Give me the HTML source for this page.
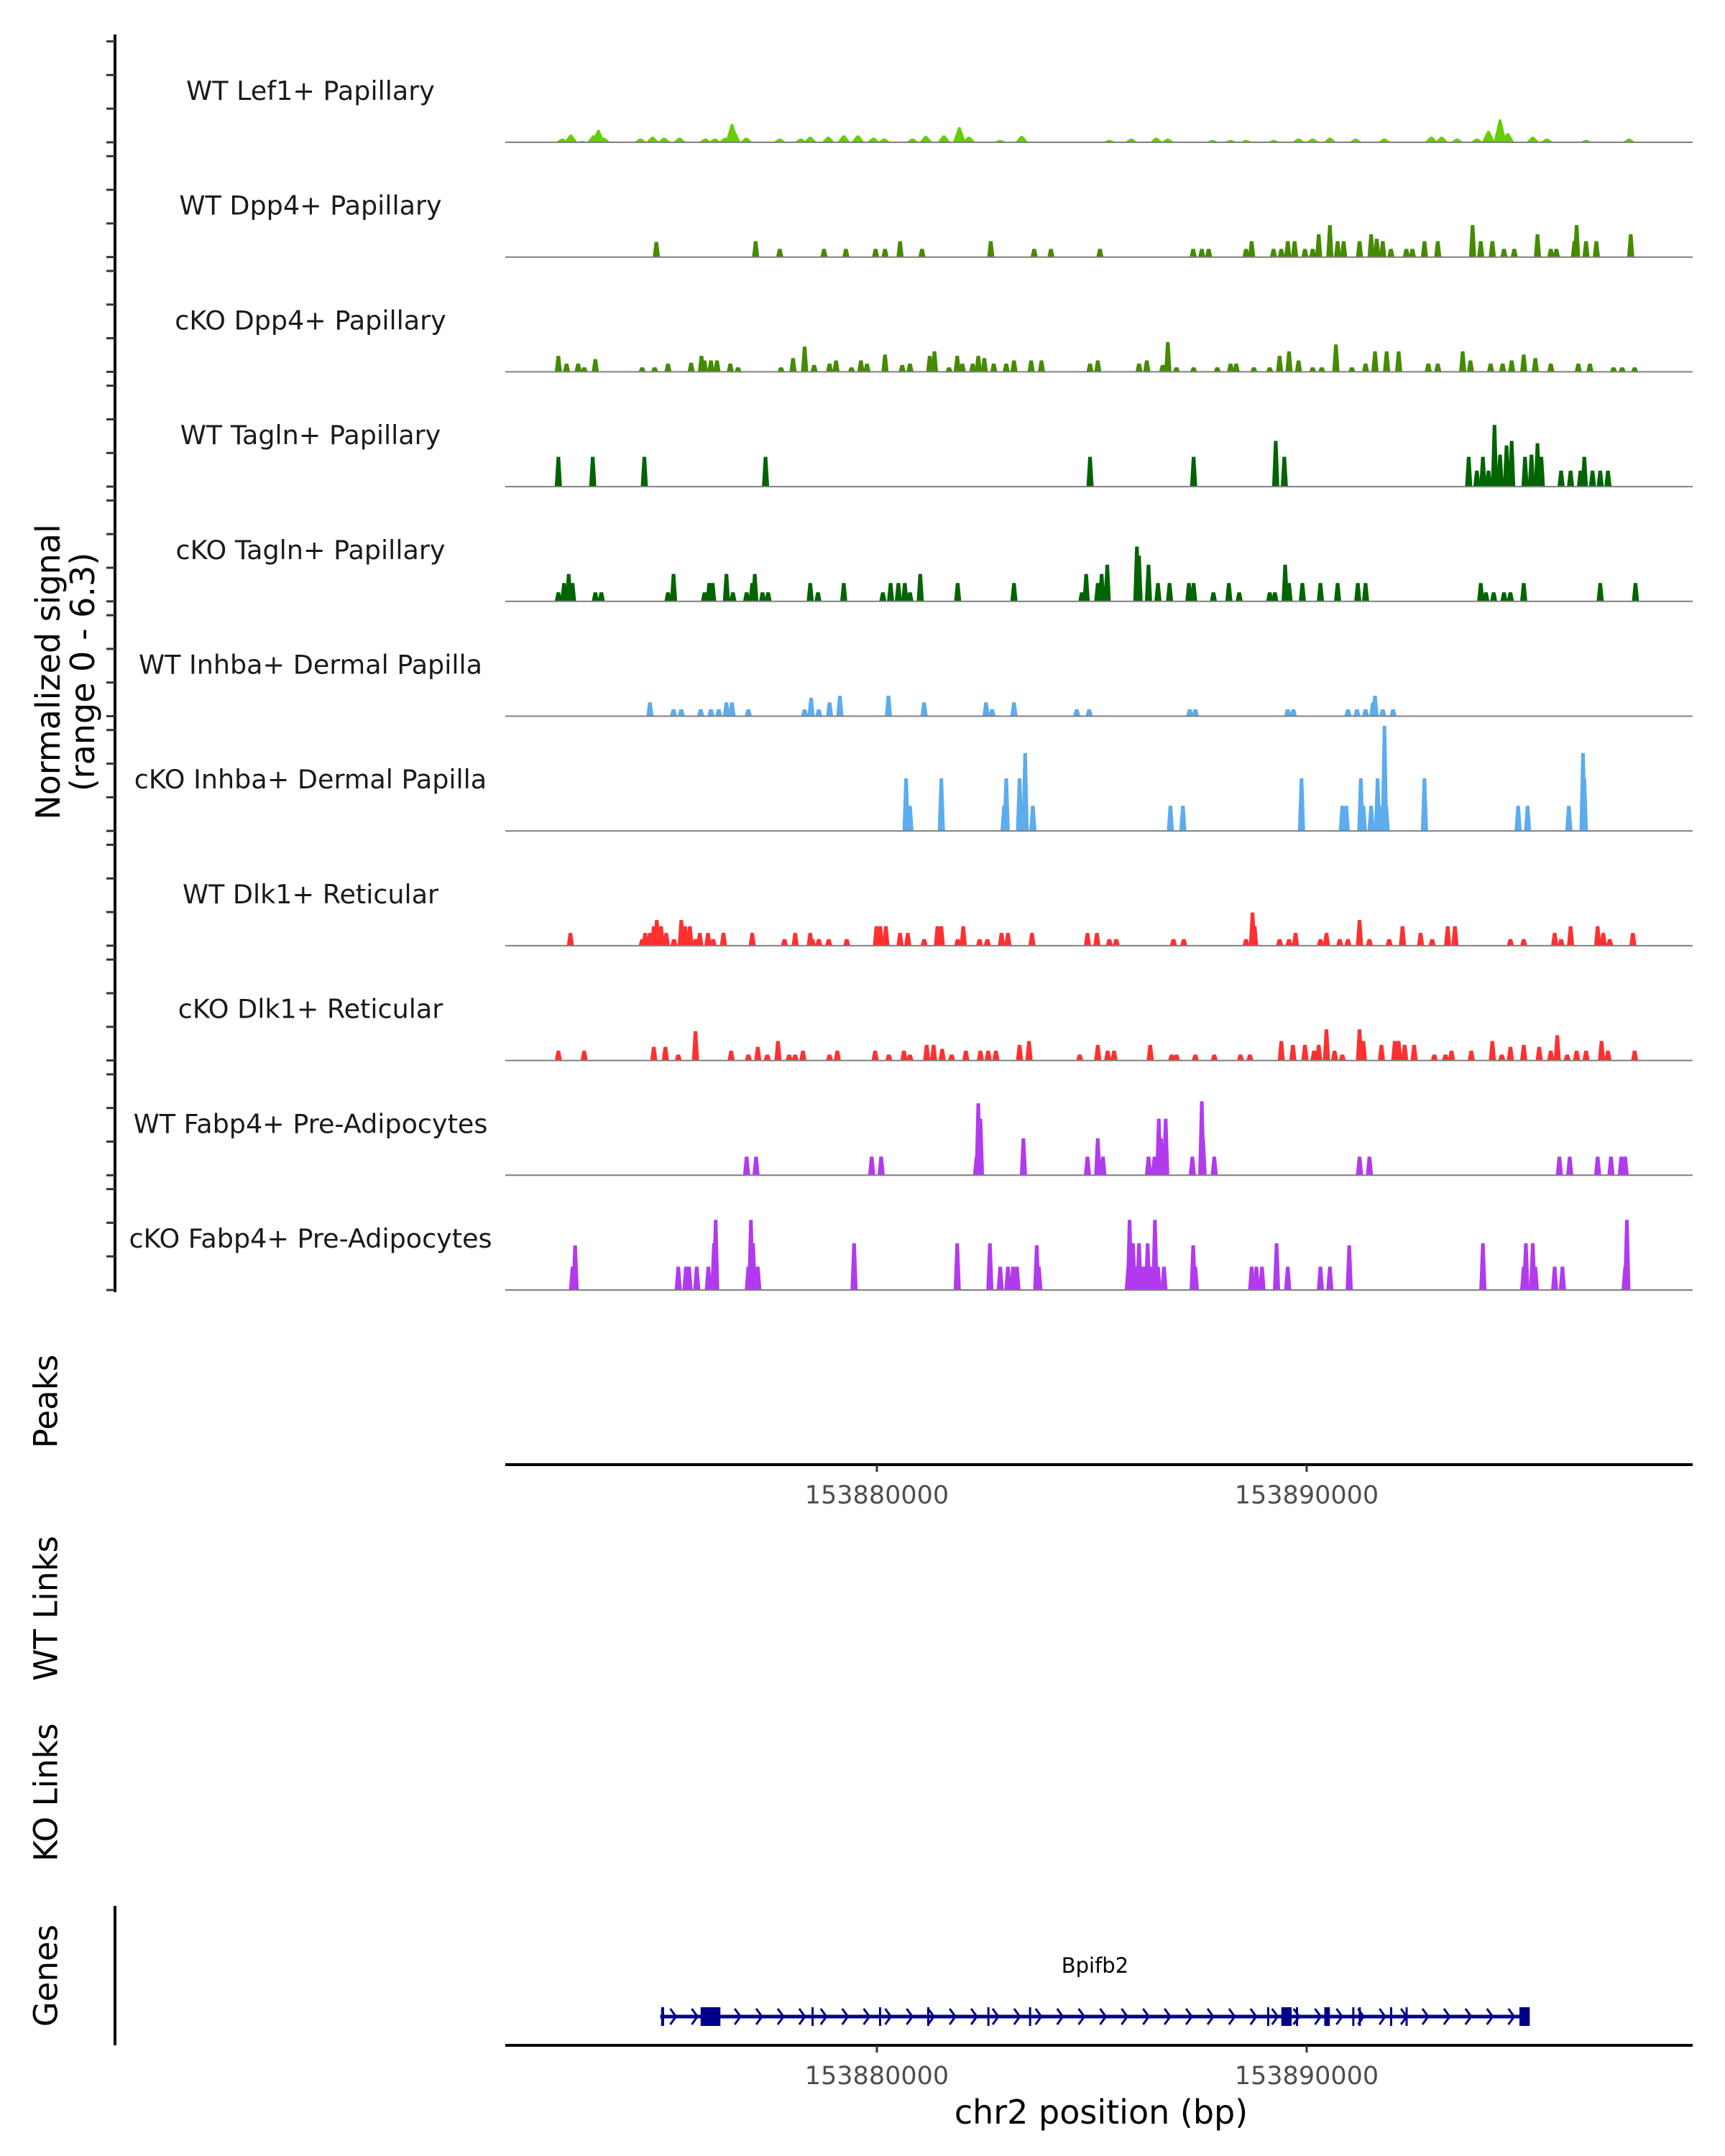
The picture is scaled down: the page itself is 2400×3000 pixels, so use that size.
<!DOCTYPE html>
<html><head><meta charset="utf-8"><title>Chromatin accessibility coverage plot for the Bpifb2 locus</title>
<style>html,body{margin:0;padding:0;background:#fff;}svg{display:block;}</style></head>
<body>
<svg id="chart" xmlns="http://www.w3.org/2000/svg" width="2400" height="3000" viewBox="0 0 2400 3000" font-family="'DejaVu Sans','Liberation Sans',sans-serif"></svg>
<script>
// ---- data (positions in kb offset from 153,870,000; values in normalized signal) ----
const trackNames = ["WT Lef1+ Papillary","WT Dpp4+ Papillary","cKO Dpp4+ Papillary","WT Tagln+ Papillary","cKO Tagln+ Papillary","WT Inhba+ Dermal Papilla","cKO Inhba+ Dermal Papilla","WT Dlk1+ Reticular","cKO Dlk1+ Reticular","WT Fabp4+ Pre-Adipocytes","cKO Fabp4+ Pre-Adipocytes"];
const trackColors = ["#66CD00","#458B00","#458B00","#006400","#006400","#5CACEE","#5CACEE","#FF3030","#FF3030","#B23AEE","#B23AEE"];
const xTicks = [153880000, 153890000];
const yTicks = [0, 2, 4, 6];

const lef1WtPos = [2.68,2.88,3.14,3.41,3.52,3.65,4.5,4.78,5.05,5.41,6.01,6.23,6.47,6.63,6.68,6.96,7.74,8.23,8.45,8.87,9.23,9.56,9.92,10.17,10.83,11.14,11.56,11.92,12.14,12.87,13.37,15.41,15.92,16.5,16.77,17.81,18.23,18.59,19.23,19.81,20.14,20.54,21.14,21.81,22.9,23.14,23.5,23.96,24.23,24.5,24.68,25.26,25.59,26.5,27.5];
const lef1WtVal = [.22,.46,.08,.41,.73,.27,.22,.33,.27,.27,.22,.22,.27,1.09,.68,.27,.22,.22,.33,.33,.41,.41,.27,.22,.22,.38,.41,.9,.33,.14,.38,.14,.22,.27,.22,.14,.14,.14,.14,.22,.22,.27,.22,.22,.33,.33,.22,.22,.68,1.36,.54,.33,.22,.14,.22];

const dpp4WtPos = [4.87,7.18,7.74,8.77,9.28,9.97,10.19,10.54,11.05,12.65,13.66,14.05,15.19,17.36,17.56,17.72,18.59,18.72,19.23,19.41,19.56,19.72,19.96,20.14,20.28,20.54,20.72,20.86,21.23,21.5,21.63,21.77,21.96,22.32,22.46,22.74,23.05,23.86,24.05,24.32,24.59,24.83,25.37,25.68,25.81,26.23,26.28,26.5,26.74,27.54];
const dpp4WtVal = [.9,.95,.49,.49,.49,.49,.49,.95,.49,.95,.49,.49,.49,.49,.49,.49,.49,.95,.49,.49,.95,.95,.49,.49,1.36,1.9,.95,.95,.95,1.36,1.09,.95,.49,.49,.49,.95,.95,1.9,.95,.95,.49,.49,1.36,.49,.49,.95,1.9,.95,.95,1.36];

const dpp4KoPos = [2.59,2.78,3.05,3.19,3.45,4.54,4.83,5.14,5.68,5.92,5.99,6.14,6.28,6.59,6.77,7.77,8.05,8.32,8.54,8.9,9.05,9.41,9.63,9.77,10.19,10.59,10.77,11.23,11.34,11.68,11.87,11.99,12.23,12.36,12.5,12.72,13.01,13.19,13.59,13.83,14.96,15.14,16.1,16.28,16.65,16.77,16.97,17.37,17.92,18.23,18.36,18.77,19.14,19.37,19.59,19.81,20.14,20.35,20.68,21.05,21.37,21.59,21.86,22.14,22.83,23.05,23.63,23.81,24.28,24.56,24.77,25.05,25.32,25.68,26.32,26.59,27.14,27.34,27.63];
const dpp4KoVal = [.95,.49,.49,.27,.76,.27,.27,.49,.54,.95,.68,.68,.68,.49,.27,.27,.82,1.5,.41,.49,.68,.27,.68,.49,1.03,.41,.49,.95,1.22,.27,.95,.49,.49,.95,.82,.49,.49,.68,.68,.68,.49,.68,.49,.68,.41,1.77,.27,.27,.27,.49,.49,.27,.27,.95,1.22,.68,.27,.27,1.63,.27,.49,1.22,1.22,1.22,.49,.49,1.22,.68,.49,.49,.68,1.03,.82,.49,.49,.49,.27,.27,.27];

const taglnWtPos = [2.59,3.39,4.59,7.41,14.96,17.37,19.28,19.48,23.77,23.96,24.1,24.23,24.37,24.5,24.65,24.77,25.08,25.23,25.37,25.46,25.92,26.14,26.37,26.46,26.65,26.83,27.01];
const taglnWtVal = [1.77,1.77,1.77,1.77,1.77,1.77,2.72,1.77,1.77,.95,1.77,.95,3.67,1.9,2.45,2.72,1.77,1.9,2.58,1.77,.95,.95,.95,1.77,.95,.95,.95];

const taglnKoPos = [2.59,2.72,2.83,2.92,3.45,3.59,5.14,5.27,5.99,6.1,6.18,6.5,6.65,6.97,7.1,7.16,7.34,7.47,8.45,8.63,9.23,10.14,10.32,10.5,10.65,10.77,11.01,11.88,13.19,14.77,14.87,15.14,15.23,15.36,16.05,16.1,16.32,16.54,16.81,17.26,17.37,17.83,18.19,18.43,19.14,19.26,19.5,19.59,19.9,20.32,20.72,21.19,21.37,24.05,24.17,24.35,24.59,24.74,25.05,26.83,27.65];
const taglnKoVal = [.54,1.09,1.63,1.09,.54,.54,.54,1.63,.54,1.09,1.09,1.63,.54,.54,1.09,1.63,.54,.54,1.09,.54,1.09,.54,1.09,1.09,1.09,.54,1.63,1.09,1.09,.54,1.63,1.09,1.63,2.18,3.26,2.72,2.18,1.09,1.09,1.09,1.09,.54,1.09,.54,.54,.54,2.18,1.09,1.09,1.09,1.09,1.09,1.09,1.09,.54,.54,.54,.54,1.09,1.09,1.09];

const inhbaWtPos = [4.72,5.27,5.45,5.9,6.14,6.32,6.5,6.63,7.01,8.32,8.47,8.65,8.9,9.14,10.27,11.1,12.54,12.68,13.19,14.65,14.94,17.28,17.41,19.56,19.69,20.96,21.17,21.37,21.54,21.59,21.77,22.01];
const inhbaWtVal = [.82,.41,.41,.41,.41,.41,.82,.82,.41,.41,1.09,.41,.82,1.22,1.22,.82,.82,.41,.82,.41,.41,.41,.41,.41,.41,.41,.41,.41,.82,1.22,.41,.41];

const inhbaKoPos = [10.68,10.77,11.5,12.96,13.01,13.32,13.37,13.45,13.63,16.83,17.12,19.88,20.83,20.92,21.26,21.32,21.5,21.65,21.72,21.81,21.85,22.74,24.92,25.14,26.1,26.43,26.46];
const inhbaKoVal = [3.13,1.5,3.13,1.5,3.13,3.13,1.5,4.63,1.5,1.5,1.5,3.13,1.5,1.5,3.13,1.5,1.5,3.13,1.5,6.25,1.5,3.13,1.5,1.5,1.5,4.63,3.13];

const dlk1WtPos = [2.87,4.54,4.61,4.72,4.81,4.88,4.98,5.1,5.28,5.45,5.54,5.65,5.78,5.88,6.07,6.19,6.43,7.1,7.85,8.1,8.45,8.5,8.65,8.88,9.3,9.99,10.08,10.21,10.54,10.72,11.1,11.41,11.5,11.88,12.01,12.39,12.57,12.9,13.05,13.61,14.9,15.12,15.41,15.57,16.9,17.14,18.59,18.74,18.79,19.37,19.59,19.74,20.32,20.46,20.77,20.96,21.23,21.46,21.92,22.23,22.65,22.92,23.28,23.45,24.74,25.05,25.77,25.92,26.14,26.77,26.9,27.05,27.59];
const dlk1WtVal = [.76,.39,.76,.76,1.16,1.53,1.16,.76,.39,1.53,1.16,1.16,.39,.76,.76,.39,.76,.76,.39,.76,.76,.39,.39,.39,.39,1.16,1.16,1.16,.76,.76,.39,1.16,1.16,.39,1.16,.39,.39,.76,.76,.76,.76,.76,.39,.39,.39,.39,.39,1.97,1.16,.39,.39,.76,.39,.76,.39,.39,1.53,.39,.39,1.16,.76,.39,1.16,1.16,.39,.39,.76,.39,1.16,1.16,.76,.39,.76];

const dlk1KoPos = [2.59,3.19,4.81,5.08,5.38,5.78,6.61,7.01,7.23,7.45,7.7,7.96,8.1,8.28,8.9,9.08,9.96,10.28,10.63,10.77,11.16,11.32,11.52,11.74,12.07,12.41,12.59,12.77,13.32,13.54,14.72,15.14,15.37,15.52,16.36,16.86,16.97,17.41,17.85,18.46,18.68,19.41,19.68,19.96,20.17,20.28,20.46,20.65,20.83,21.23,21.32,21.74,22.05,22.14,22.28,22.5,22.97,23.23,23.37,23.83,24.32,24.54,24.74,25.05,25.41,25.68,25.83,26.06,26.28,26.5,26.86,27.01,27.63];
const dlk1KoVal = [.58,.58,.81,.81,.35,1.74,.58,.35,.81,.35,1.16,.35,.35,.58,.35,.58,.58,.35,.58,.35,.93,.93,.69,.35,.58,.58,.58,.58,.93,1.16,.35,.93,.58,.58,.93,.35,.35,.35,.35,.35,.35,1.16,.93,.93,.58,.93,1.85,.58,.35,1.85,1.16,.93,1.16,1.16,.93,.93,.35,.35,.58,.58,1.16,.35,.81,.93,.81,.58,1.5,.35,.58,.58,1.16,.58,.58];

const fabp4WtPos = [6.97,7.19,9.88,10.1,12.32,12.36,12.41,13.41,14.9,15.14,15.26,16.32,16.46,16.56,16.61,16.72,17.34,17.56,17.59,17.85,21.23,21.46,25.88,26.12,26.77,27.08,27.32,27.41];
const fabp4WtVal = [1.11,1.11,1.11,1.11,1.11,4.28,3.36,2.2,1.11,2.2,1.11,1.11,1.11,3.36,2.2,3.36,1.11,4.4,2.2,1.11,1.11,1.11,1.11,1.11,1.11,1.11,1.11,1.11];

const fabp4KoPos = [2.92,2.98,5.38,5.56,5.63,5.81,6.08,6.21,6.25,7.01,7.07,7.12,7.23,9.47,11.87,12.63,12.87,13.05,13.17,13.26,13.72,13.77,15.85,15.88,15.96,16.05,16.1,16.16,16.23,16.3,16.39,16.47,16.54,16.68,17.36,17.41,18.72,18.83,18.96,19.3,19.56,20.32,20.54,20.99,24.1,25.05,25.1,25.26,25.32,25.77,25.95,27.41,27.45];
const fabp4KoVal = [1.39,2.66,1.39,1.39,1.39,1.39,1.39,2.78,4.17,1.39,4.17,2.78,1.39,2.78,2.78,2.78,1.39,1.39,1.39,1.39,2.66,1.39,1.39,4.17,2.78,1.39,2.78,1.39,1.39,2.78,1.39,4.17,1.39,1.39,2.66,1.39,1.39,1.39,1.39,2.78,1.39,1.39,1.39,2.66,2.78,1.39,2.78,2.78,1.39,1.39,1.39,1.39,4.17];

const trackPos = [lef1WtPos,dpp4WtPos,dpp4KoPos,taglnWtPos,taglnKoPos,inhbaWtPos,inhbaKoPos,dlk1WtPos,dlk1KoPos,fabp4WtPos,fabp4KoPos];
const trackVal = [lef1WtVal,dpp4WtVal,dpp4KoVal,taglnWtVal,taglnKoVal,inhbaWtVal,inhbaKoVal,dlk1WtVal,dlk1KoVal,fabp4WtVal,fabp4KoVal];

const geneName = "Bpifb2";
const geneStartKb = 4.96;
const geneEndKb = 25.19;
const exonStartKb = [4.98,5.9,8.48,10.05,11.17,12.57,13.54,19.08,19.41,19.75,20.41,21.06,21.21,21.94,22.3,24.95];
const exonEndKb = [5.05,6.36,8.52,10.09,11.21,12.61,13.58,19.12,19.65,19.79,20.54,21.1,21.25,21.98,22.34,25.19];

// ---- layout ----
const NS = "http://www.w3.org/2000/svg";
const svg = document.getElementById("chart");
const X0 = 703, X1 = 2355, KB0 = 1.355, PXPERKB = 59.8;
const BASE0 = 198, STEP = 159.7, UNIT = 23.4;
function xScale(kb){ return X0 + (kb - KB0) * PXPERKB; }
function bpToKb(bp){ return (bp - 153870000) / 1000; }
function yScale(track, v){ return BASE0 + track * STEP - v * UNIT; }
function mk(tag, attrs, parent){
  const e = document.createElementNS(NS, tag);
  for (const k in attrs) e.setAttribute(k, attrs[k]);
  (parent || svg).appendChild(e);
  return e;
}

const yAxis = mk("line", {x1:160, x2:160, y1:BASE0 - 150, y2:BASE0 + 10*STEP + 3, stroke:"#000", "stroke-width":4});



for (let t = 0; t < trackNames.length; t++) {
  const g = mk("g", {});
  
  
  for (const tv of yTicks) {
    const tk = mk("line", {x1:148, x2:160, y1:yScale(t, tv), y2:yScale(t, tv), stroke:"#333", "stroke-width":3}, g);
    
    
  }
  const lbl = mk("text", {x:432, y:BASE0 + t*STEP - 59, "text-anchor":"middle", "font-size":36.5, fill:"#1a1a1a"}, g);
  lbl.textContent = trackNames[t];
  
  
  const wide = t === 0;
  const hwB = wide ? 9 : 5, hwT = wide ? 1.5 : 2.5;
  const pos = trackPos[t], val = trackVal[t];
  for (let i = 0; i < pos.length; i++) {
    const x = xScale(pos[i]), yb = yScale(t, 0), yt = yScale(t, val[i]);
    const p = mk("polygon", {points:`${x-hwB},${yb} ${x-hwT},${yt} ${x+hwT},${yt} ${x+hwB},${yb}`, fill:trackColors[t]}, g);
    
    
  }
  const bl = mk("line", {x1:X0, x2:X1, y1:yScale(t,0), y2:yScale(t,0), stroke:"#7f7f7f", "stroke-width":2}, g);
  
  
}

const yt1 = mk("text", {x:0, y:0, transform:"translate(67,935) rotate(-90)", "text-anchor":"middle", "dominant-baseline":"central", "font-size":46, fill:"#000"});
yt1.textContent = "Normalized signal";


const yt2 = mk("text", {x:0, y:0, transform:"translate(115,935) rotate(-90)", "text-anchor":"middle", "dominant-baseline":"central", "font-size":46, fill:"#000"});
yt2.textContent = "(range 0 - 6.3)";



const sideTitles = [["Peaks",1950,"peaks-title"],["WT Links",2238,"wt-links-title"],["KO Links",2494,"ko-links-title"],["Genes",2749,"genes-title"]];
for (const s of sideTitles) {
  const e = mk("text", {x:0, y:0, transform:`translate(64,${s[1]}) rotate(-90)`, "text-anchor":"middle", "dominant-baseline":"central", "font-size":45, fill:"#000"});
  e.textContent = s[0];
  
  
}

function drawXAxis(y, name, labelY){
  const ax = mk("line", {x1:X0, x2:X1, y1:y, y2:y, stroke:"#000", "stroke-width":4});
  
  
  for (const bp of xTicks) {
    const x = xScale(bpToKb(bp));
    const tk = mk("line", {x1:x, x2:x, y1:y, y2:y+10, stroke:"#333", "stroke-width":3});
    
    
    const tl = mk("text", {x:x, y:labelY, "text-anchor":"middle", "font-size":35, fill:"#4d4d4d"});
    tl.textContent = String(bp);
    
    
  }
}
drawXAxis(2038, 'peaks-x-axis', 2092);
drawXAxis(2846, 'genes-x-axis', 2900);

const xt = mk("text", {x:1532, y:2955, "text-anchor":"middle", "font-size":46, fill:"#000"});
xt.textContent = "chr2 position (bp)";



const gl = mk("line", {x1:160, x2:160, y1:2652, y2:2846, stroke:"#000", "stroke-width":4});



const GY = 2806;
const gg = mk("g", {});


const intron = mk("line", {x1:xScale(geneStartKb), x2:xScale(geneEndKb), y1:GY, y2:GY, stroke:"#00008B", "stroke-width":5}, gg);


for (let k = geneStartKb + 0.3; k < geneEndKb - 0.1; k += 0.5) {
  const x = xScale(k);
  const ch = mk("polyline", {points:`${x-4},${GY-11} ${x+4},${GY} ${x-4},${GY+11}`, fill:"none", stroke:"#00008B", "stroke-width":3}, gg);
  
  
}
for (let i = 0; i < exonStartKb.length; i++) {
  const xa = xScale(exonStartKb[i]), xb = xScale(exonEndKb[i]);
  const ex = mk("rect", {x:xa, y:GY-13, width:Math.max(3, xb-xa), height:26, fill:"#00008B"}, gg);
  
  
}
const gn = mk("text", {x:xScale((geneStartKb+geneEndKb)/2), y:2745, "text-anchor":"middle", "font-size":29, fill:"#000"}, gg);
gn.textContent = geneName;


</script>
</body></html>
